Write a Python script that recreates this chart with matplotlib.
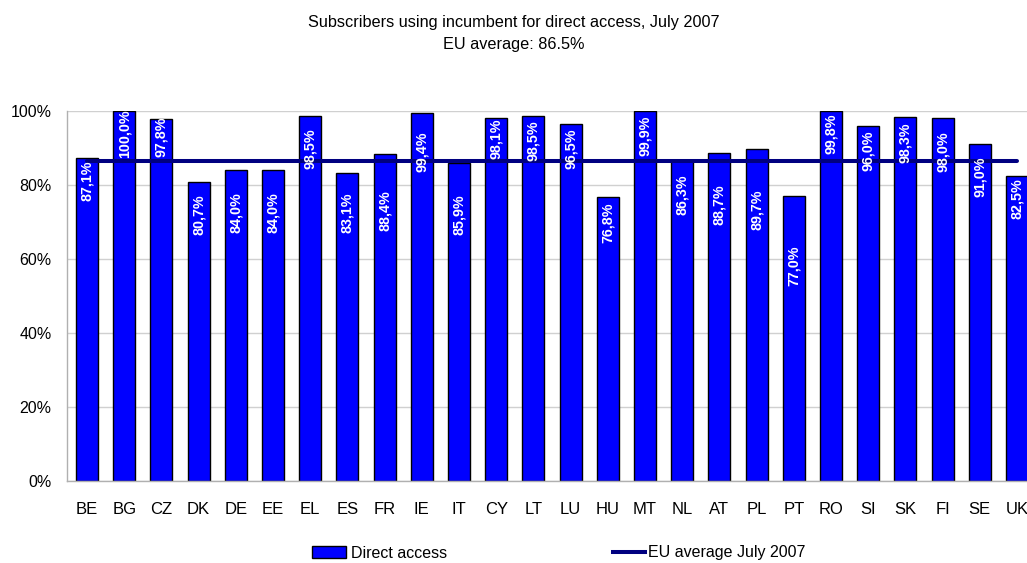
import matplotlib
matplotlib.use("Agg")
import matplotlib.pyplot as plt
from matplotlib.patches import Patch
from matplotlib.lines import Line2D
from matplotlib.ticker import FuncFormatter

plt.rcParams['font.family'] = ['Liberation Sans', 'DejaVu Sans']

countries = ["BE", "BG", "CZ", "DK", "DE", "EE", "EL", "ES", "FR", "IE", "IT", "CY", "LT",
             "LU", "HU", "MT", "NL", "AT", "PL", "PT", "RO", "SI", "SK", "FI", "SE", "UK"]
direct_access = [87.1, 100.0, 97.8, 80.7, 84.0, 84.0, 98.5, 83.1, 88.4, 99.4, 85.9, 98.1, 98.5,
                 96.5, 76.8, 99.9, 86.3, 88.7, 89.7, 77.0, 99.8, 96.0, 98.3, 98.0, 91.0, 82.5]
# vertical centre of each value label, in percent
label_centre = [81.2, 93.8, 93.0, 71.9, 72.4, 72.4, 89.7, 72.4, 73.0, 89.0, 71.9, 92.5, 91.9,
                89.7, 69.7, 93.2, 77.3, 74.5, 73.2, 58.2, 93.8, 89.1, 91.4, 89.0, 82.2, 76.3]
eu_average = 86.5

fig = plt.figure(figsize=(10.27, 5.63), dpi=100)
ax = fig.add_axes([67 / 1027, 82 / 563, 970 / 1027, 370.3 / 563])

x = list(range(len(countries)))
ax.bar(x, direct_access, width=0.59, color="#0000FF", edgecolor="#000000",
       linewidth=1.0, zorder=2)
ax.plot(x, [eu_average] * len(x), color="#000080", linewidth=2.9,
        solid_capstyle="round", zorder=3)

for xi, v, yc in zip(x, direct_access, label_centre):
    ax.text(xi, yc, f"{v:.1f}%".replace(".", ","), rotation=90, ha="center",
            va="center", color="white", fontsize=10.3, fontweight="bold", zorder=4)

ax.set_xlim(-0.54, len(countries) - 1 + 0.54)
ax.set_ylim(0, 100)
ax.set_yticks([0, 20, 40, 60, 80, 100])
ax.yaxis.set_major_formatter(FuncFormatter(lambda v, p: f"{v:.0f}%"))
ax.set_xticks(x)
ax.set_xticklabels(countries)
ax.tick_params(axis="x", length=0, pad=15, labelsize=12)
ax.tick_params(axis="y", length=0, pad=11, labelsize=11.5)
ax.grid(axis="y", color="#d0d0d0", linewidth=1.0, zorder=0)
ax.set_axisbelow(True)
for side in ("top", "right"):
    ax.spines[side].set_visible(False)
for side in ("left", "bottom"):
    ax.spines[side].set_color("#b0b0b0")
    ax.spines[side].set_linewidth(1.0)

fig.text(0.5, 1 - 22 / 563, "Subscribers using incumbent for direct access, July 2007",
         ha="center", va="center", fontsize=11.7)
fig.text(0.5, 1 - 45 / 563, "EU average: 86.5%", ha="center", va="center", fontsize=11.7)

fig.legend(handles=[Patch(facecolor="#0000FF", edgecolor="#000000", linewidth=1.0,
                          label="Direct access")],
           loc="center left", bbox_to_anchor=(312 / 1027, 1 - 553 / 563), frameon=False,
           borderpad=0, borderaxespad=0, handlelength=2.1, handleheight=0.8,
           handletextpad=0.35, fontsize=11.5)
fig.legend(handles=[Line2D([], [], color="#000080", linewidth=2.9, label="EU average July 2007")],
           loc="center left", bbox_to_anchor=(613 / 1027, 1 - 553 / 563), frameon=False,
           borderpad=0, borderaxespad=0, handlelength=2.0, handletextpad=0.2, fontsize=11.5)

fig.savefig("out.png", dpi=100)
